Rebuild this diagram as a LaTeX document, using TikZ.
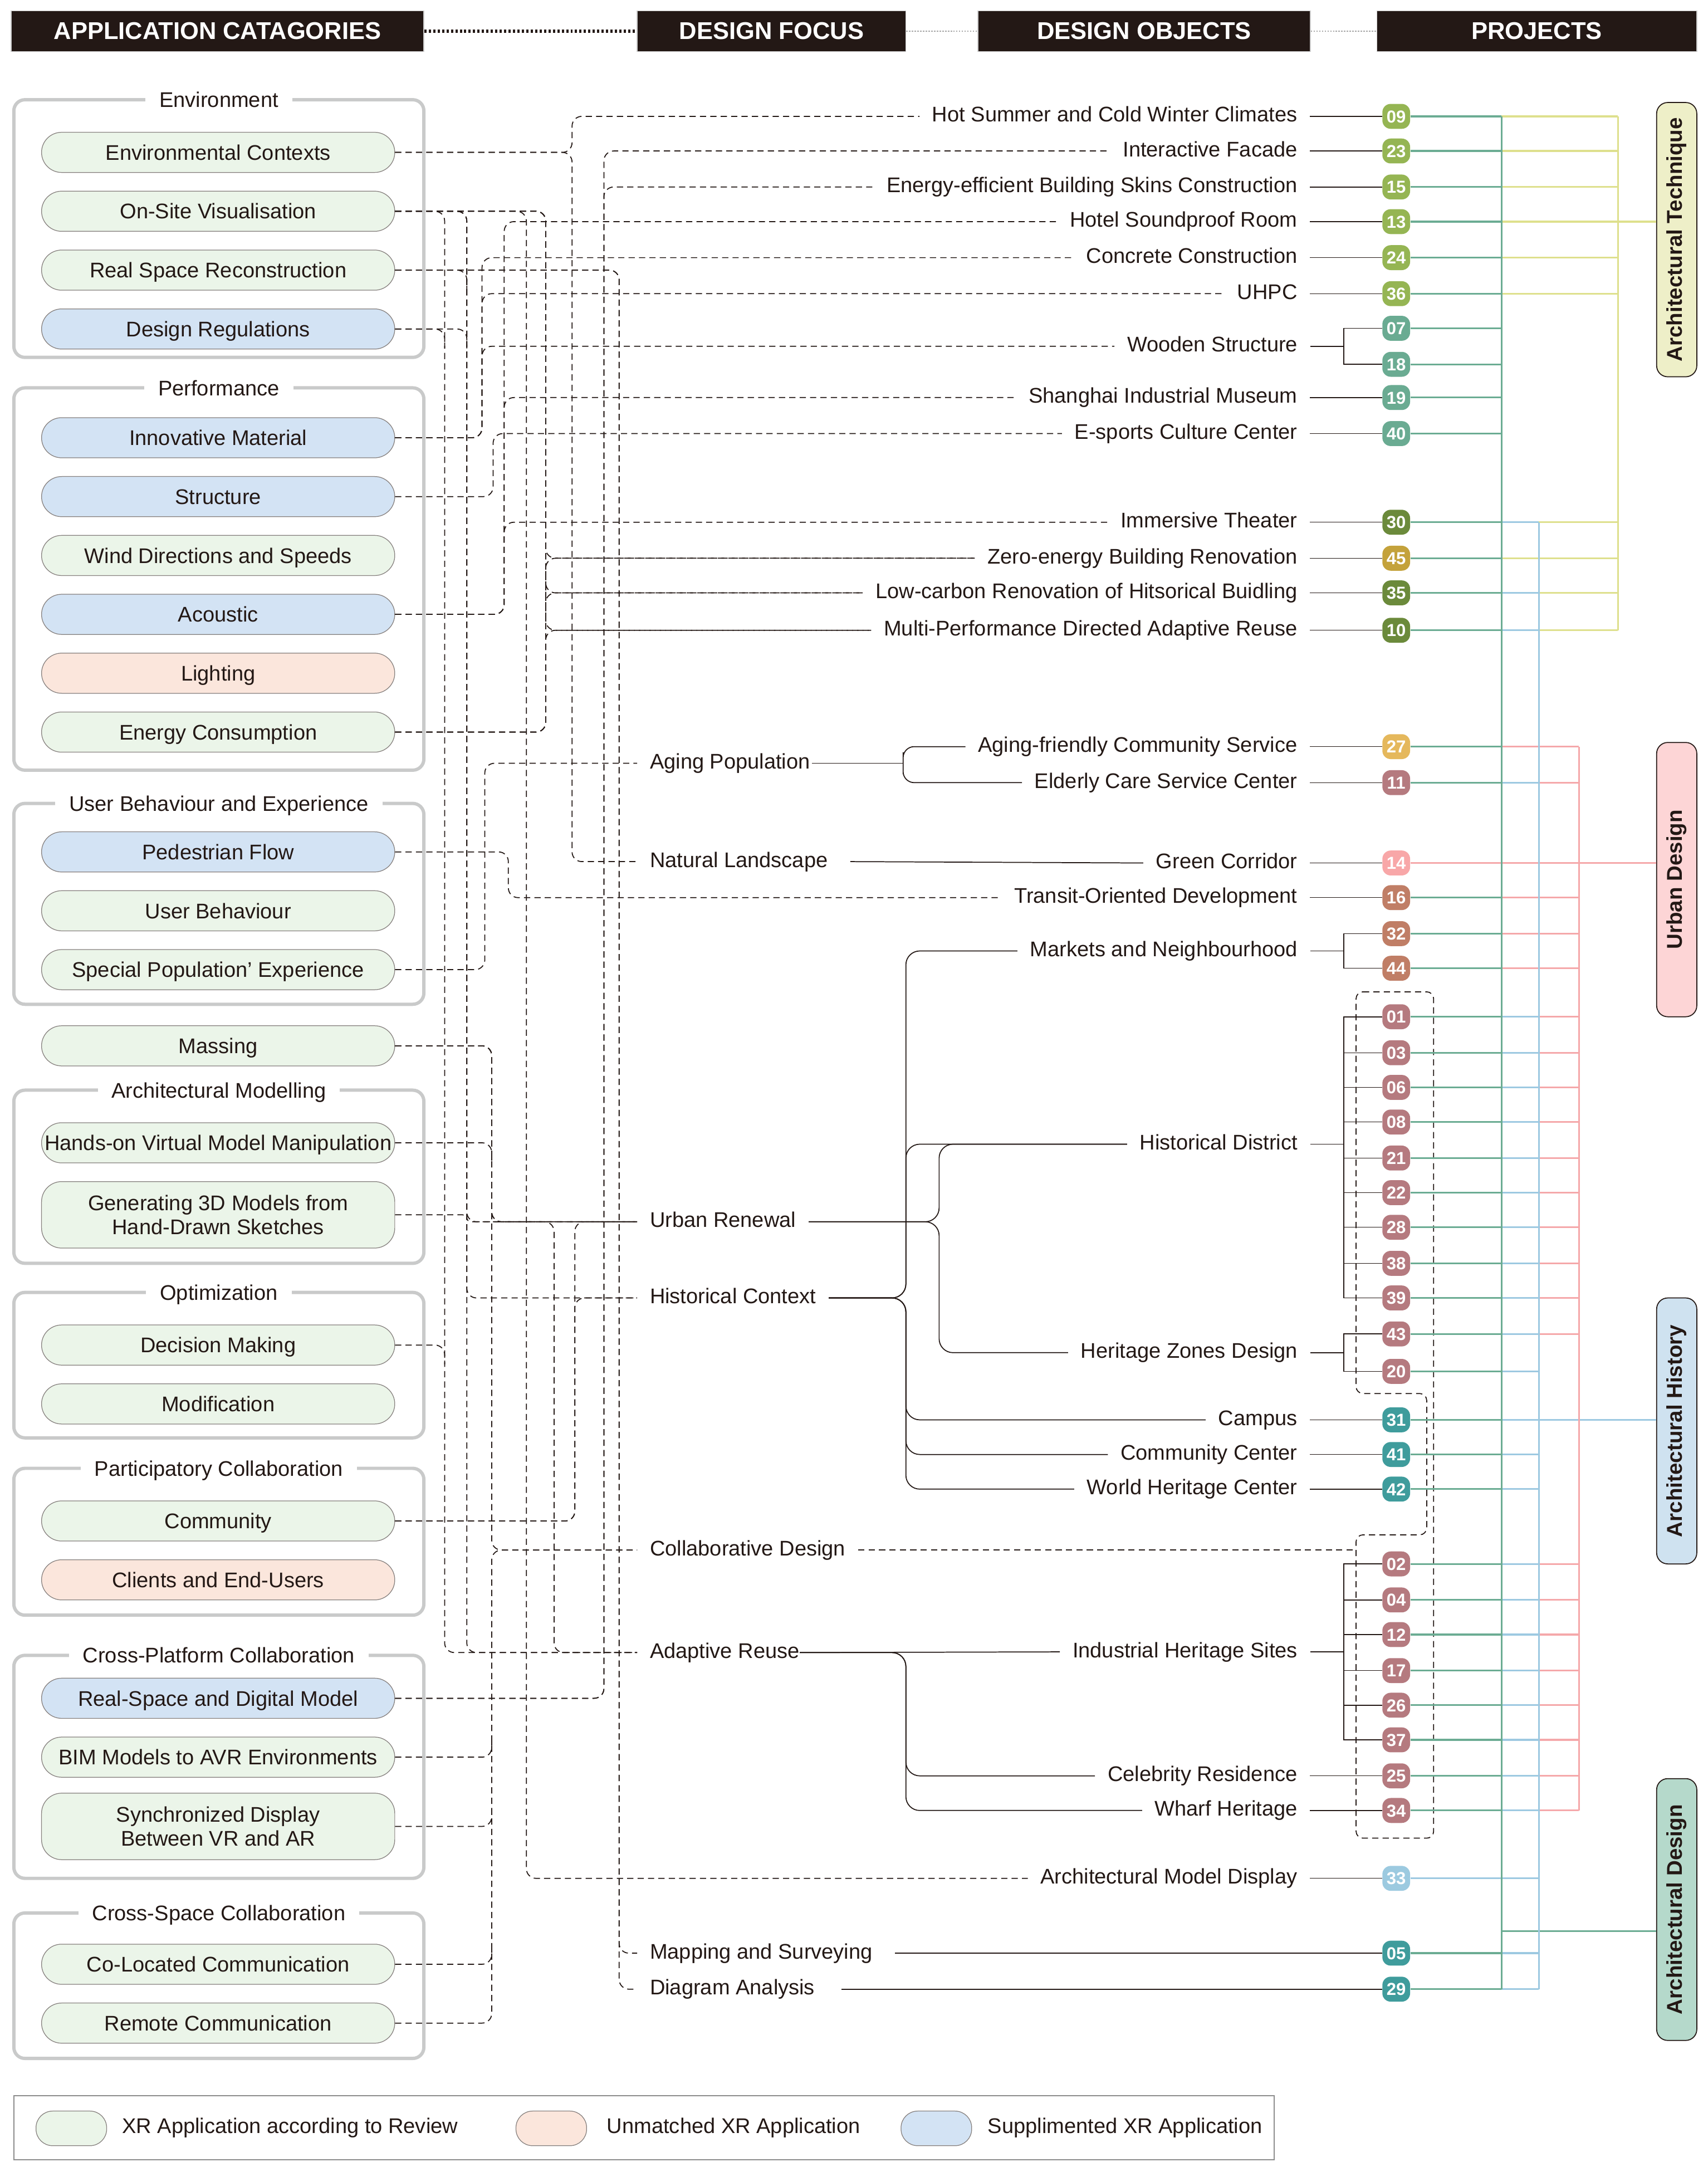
\documentclass[tikz,border=0pt]{standalone}
\usepackage{fontspec}
\setmainfont{Liberation Sans}
\usetikzlibrary{positioning,calc}
\definecolor{ink}{HTML}{231815}
\definecolor{frame}{HTML}{C9CACA}
\definecolor{legline}{HTML}{8C8C8C}
\definecolor{pg}{HTML}{EBF5E9}
\definecolor{pb}{HTML}{D3E3F4}
\definecolor{pr}{HTML}{FBE6DC}
\definecolor{grline}{HTML}{6BAC93}
\definecolor{blline}{HTML}{9DC9E1}
\definecolor{ylline}{HTML}{DEE08D}
\definecolor{pkline}{HTML}{F5A8AA}
\definecolor{bOl}{HTML}{95B553}
\definecolor{bTg}{HTML}{6AAB92}
\definecolor{bDk}{HTML}{6B8A3B}
\definecolor{bMu}{HTML}{C4A23B}
\definecolor{bYe}{HTML}{E5B85C}
\definecolor{bMv}{HTML}{B57A7F}
\definecolor{bPk}{HTML}{F8A7A8}
\definecolor{bBr}{HTML}{C07E66}
\definecolor{bTl}{HTML}{3F9C9C}
\definecolor{bLb}{HTML}{9CCAE0}
\definecolor{cT}{HTML}{EEEFC8}
\definecolor{cU}{HTML}{FDD5D6}
\definecolor{cH}{HTML}{CFE2F0}
\definecolor{cD}{HTML}{B5D9CB}

\begin{document}
\begin{tikzpicture}[x=1pt,y=-1pt,% one unit per pixel of the sheet, y runs downwards
	every node/.style={text=ink,font=\fontsize{15.3}{17}\selectfont},
	every edge/.style={draw=ink,line width=0.6pt},
	head/.style={fill=ink,draw=gray!40,line width=0.6pt,text=white,font=\fontsize{17.5}{20}\selectfont\bfseries,minimum height=29.5pt,inner sep=0pt},
	grp/.style={draw=frame,line width=2.4pt,rounded corners=8pt},
	gtitle/.style={fill=white,inner xsep=10pt,inner ysep=1pt,text height=11pt,text depth=0pt},
	pillbase/.style={draw=ink!55,line width=0.5pt,rounded corners=14.5pt,minimum width=255pt,minimum height=29pt,inner sep=0pt,align=center},
	pill/.style={pillbase,text height=11pt,text depth=0pt},% caps sit in the middle of the pill
	focus/.style={anchor=west,inner xsep=9pt,inner ysep=0pt,text height=11pt,text depth=3pt},
	obj/.style={inner xsep=9pt,inner ysep=0pt,text height=11pt,text depth=3pt},
	badge/.style={rounded corners=6pt,minimum width=20pt,minimum height=18pt,inner sep=0pt,text=white,text height=9pt,text depth=0pt,font=\fontsize{12.5}{13}\selectfont\bfseries},
	cat/.style={rotate=90,draw=ink,line width=0.7pt,rounded corners=8pt,minimum height=29pt,inner sep=0pt,font=\fontsize{15.5}{18}\selectfont\bfseries},
	dline/.style={draw=ink,line width=0.7pt,dash pattern=on 4.5pt off 3pt,rounded corners=7pt},
	tline/.style={draw=ink,line width=0.7pt},
	gl/.style={draw=grline,line width=1.3pt},
	bl/.style={draw=blline,line width=1.3pt},
	yl/.style={draw=ylline,line width=1.3pt},
	pl/.style={draw=pkline,line width=1.3pt}
	]
	\useasboundingbox (0,0) rectangle (1233,1568);

	% column heads
	\node[head,minimum width=298pt](H1) at (157,22.5){APPLICATION CATAGORIES};
	\node[head,minimum width=194pt](H2) at (557,22.5){DESIGN FOCUS};
	\node[head,minimum width=240pt](H3) at (826,22.5){DESIGN OBJECTS};
	\node[head,minimum width=231pt](H4) at (1109.5,22.5){PROJECTS};
	\draw[ink,line width=2.4pt,dash pattern=on 1.6pt off 1.6pt] (H1) -- (H2);
	\draw[gray!70,line width=0.6pt,dash pattern=on 1pt off 1pt] (H2) -- (H3) (H3) -- (H4);

	% application categories
	\draw[grp] (10,72) rectangle (306,258);
	\node[gtitle](T1) at (158,72){Environment};
	\node[pill,fill=pg](C1) at (157.5,110){Environmental Contexts};
	\node[pill,fill=pg,below=13pt of C1](C2){On-Site Visualisation};
	\node[pill,fill=pg,below=13pt of C2](C3){Real Space Reconstruction};
	\node[pill,fill=pb,below=13pt of C3](C4){Design Regulations};

	\draw[grp] (10,280) rectangle (306,556);
	\node[gtitle](T2) at (158,280){Performance};
	\node[pill,fill=pb](C5) at (157.5,316){Innovative Material};
	\node[pill,fill=pb,below=13pt of C5](C6){Structure};
	\node[pill,fill=pg,below=13pt of C6](C7){Wind Directions and Speeds};
	\node[pill,fill=pb,below=13pt of C7](C8){Acoustic};
	\node[pill,fill=pr,below=13pt of C8](C9){Lighting};
	\node[pill,fill=pg,below=13pt of C9](C10){Energy Consumption};

	\draw[grp] (10,580) rectangle (306,725);
	\node[gtitle](T3) at (158,580){User Behaviour and Experience};
	\node[pill,fill=pb](C11) at (157.5,615){Pedestrian Flow};
	\node[pill,fill=pg,below=13pt of C11](C12){User Behaviour};
	\node[pill,fill=pg,below=13pt of C12](C13){Special Population' Experience};

	\node[pill,fill=pg](C14) at (157.5,755){Massing};

	\draw[grp] (10,787) rectangle (306,912);
	\node[gtitle](T4) at (158,787){Architectural Modelling};
	\node[pill,fill=pg](C15) at (157.5,825){Hands-on Virtual Model Manipulation};
	\node[pillbase,fill=pg,minimum height=48pt,below=13pt of C15](C16){Generating 3D Models from\\Hand-Drawn Sketches};

	\draw[grp] (10,933) rectangle (306,1038);
	\node[gtitle](T5) at (158,933){Optimization};
	\node[pill,fill=pg](C17) at (157.5,971){Decision Making};
	\node[pill,fill=pg,below=13pt of C17](C18){Modification};

	\draw[grp] (10,1060) rectangle (306,1166);
	\node[gtitle](T6) at (158,1060){Participatory Collaboration};
	\node[pill,fill=pg](C19) at (157.5,1098){Community};
	\node[pill,fill=pr,below=13pt of C19](C20){Clients and End-Users};

	\draw[grp] (10,1195) rectangle (306,1356);
	\node[gtitle](T7) at (158,1195){Cross-Platform Collaboration};
	\node[pill,fill=pb](C21) at (157.5,1226){Real-Space and Digital Model};
	\node[pill,fill=pg,below=13pt of C21](C22){BIM Models to AVR Environments};
	\node[pillbase,fill=pg,minimum height=48pt,below=11pt of C22](C23){Synchronized Display\\Between VR and AR};

	\draw[grp] (10,1381) rectangle (306,1486);
	\node[gtitle](T8) at (158,1381){Cross-Space Collaboration};
	\node[pill,fill=pg](C24) at (157.5,1418){Co-Located Communication};
	\node[pill,fill=pg,below=13pt of C24](C25){Remote Communication};

	% legend
	\draw[draw=legline,line width=0.8pt] (10,1513) rectangle (920,1559);
	\node[pillbase,fill=pg,minimum width=51pt,minimum height=25pt,rounded corners=12pt](L1) at (51.5,1536.5){};
	\node[anchor=west,inner sep=0pt](L1t) at (88,1536){XR Application according to Review};
	\node[pillbase,fill=pr,minimum width=51pt,minimum height=25pt,rounded corners=12pt](L2) at (398,1536.5){};
	\node[anchor=west,inner sep=0pt](L2t) at (438,1536){Unmatched XR Application};
	\node[pillbase,fill=pb,minimum width=51pt,minimum height=25pt,rounded corners=12pt](L3) at (676,1536.5){};
	\node[anchor=west,inner sep=0pt](L3t) at (713,1536){Supplimented XR Application};

	% projects
	\node[badge,fill=bOl](P09) at (1008,84){09};
	\node[badge,fill=bOl](P23) at (1008,109){23};
	\node[badge,fill=bOl](P15) at (1008,135){15};
	\node[badge,fill=bOl](P13) at (1008,160){13};
	\node[badge,fill=bOl](P24) at (1008,186){24};
	\node[badge,fill=bOl](P36) at (1008,212){36};
	\node[badge,fill=bTg](P07) at (1008,237){07};
	\node[badge,fill=bTg](P18) at (1008,263){18};
	\node[badge,fill=bTg](P19) at (1008,287){19};
	\node[badge,fill=bTg](P40) at (1008,313){40};
	\node[badge,fill=bDk](P30) at (1008,377){30};
	\node[badge,fill=bMu](P45) at (1008,403){45};
	\node[badge,fill=bDk](P35) at (1008,428){35};
	\node[badge,fill=bDk](P10) at (1008,455){10};
	\node[badge,fill=bYe](P27) at (1008,539){27};
	\node[badge,fill=bMv](P11) at (1008,565){11};
	\node[badge,fill=bPk](P14) at (1008,623){14};
	\node[badge,fill=bBr](P16) at (1008,648){16};
	\node[badge,fill=bBr](P32) at (1008,674){32};
	\node[badge,fill=bBr](P44) at (1008,699){44};
	\node[badge,fill=bMv](P01) at (1008,734){01};
	\node[badge,fill=bMv](P03) at (1008,760){03};
	\node[badge,fill=bMv](P06) at (1008,785){06};
	\node[badge,fill=bMv](P08) at (1008,810){08};
	\node[badge,fill=bMv](P21) at (1008,836){21};
	\node[badge,fill=bMv](P22) at (1008,861){22};
	\node[badge,fill=bMv](P28) at (1008,886){28};
	\node[badge,fill=bMv](P38) at (1008,912){38};
	\node[badge,fill=bMv](P39) at (1008,937){39};
	\node[badge,fill=bMv](P43) at (1008,963){43};
	\node[badge,fill=bMv](P20) at (1008,990){20};
	\node[badge,fill=bTl](P31) at (1008,1025){31};
	\node[badge,fill=bTl](P41) at (1008,1050){41};
	\node[badge,fill=bTl](P42) at (1008,1075){42};
	\node[badge,fill=bMv](P02) at (1008,1129){02};
	\node[badge,fill=bMv](P04) at (1008,1155){04};
	\node[badge,fill=bMv](P12) at (1008,1180){12};
	\node[badge,fill=bMv](P17) at (1008,1206){17};
	\node[badge,fill=bMv](P26) at (1008,1231){26};
	\node[badge,fill=bMv](P37) at (1008,1256){37};
	\node[badge,fill=bMv](P25) at (1008,1282){25};
	\node[badge,fill=bMv](P34) at (1008,1307){34};
	\node[badge,fill=bLb](P33) at (1008,1356){33};
	\node[badge,fill=bTl](P05) at (1008,1410){05};
	\node[badge,fill=bTl](P29) at (1008,1436){29};

	% design objects
	\node[obj,left=52pt of P09](O1){Hot Summer and Cold Winter Climates};
	\node[obj,left=52pt of P23](O2){Interactive Facade};
	\node[obj,left=52pt of P15](O3){Energy-efficient Building Skins Construction};
	\node[obj,left=52pt of P13](O4){Hotel Soundproof Room};
	\node[obj,left=52pt of P24](O5){Concrete Construction};
	\node[obj,left=52pt of P36](O6){UHPC};
	\node[obj,anchor=east](O7) at (946,250){Wooden Structure};
	\node[obj,left=52pt of P19](O8){Shanghai Industrial Museum};
	\node[obj,left=52pt of P40](O9){E-sports Culture Center};
	\node[obj,left=52pt of P30](O10){Immersive Theater};
	\node[obj,left=52pt of P45](O11){Zero-energy Building Renovation};
	\node[obj,left=52pt of P35](O12){Low-carbon Renovation of Hitsorical Buidling};
	\node[obj,left=52pt of P10](O13){Multi-Performance Directed Adaptive Reuse};
	\node[obj,left=52pt of P27](O14){Aging-friendly Community Service};
	\node[obj,left=52pt of P11](O15){Elderly Care Service Center};
	\node[obj,left=52pt of P14](O16){Green Corridor};
	\node[obj,left=52pt of P16](O17){Transit-Oriented Development};
	\node[obj,anchor=east](O18) at (946,686.5){Markets and Neighbourhood};
	\node[obj,anchor=east](O19) at (946,826){Historical District};
	\node[obj,anchor=east](O20) at (946,976.5){Heritage Zones Design};
	\node[obj,left=52pt of P31](O21){Campus};
	\node[obj,left=52pt of P41](O22){Community Center};
	\node[obj,left=52pt of P42](O23){World Heritage Center};
	\node[obj,anchor=east](O24) at (946,1192.5){Industrial Heritage Sites};
	\node[obj,left=52pt of P25](O25){Celebrity Residence};
	\node[obj,left=52pt of P34](O26){Wharf Heritage};
	\node[obj,left=52pt of P33](O27){Architectural Model Display};

	% design focus
	\node[focus](F1) at (460,551){Aging Population};
	\node[focus](F2) at (460,622){Natural Landscape};
	\node[focus](F3) at (460,882){Urban Renewal};
	\node[focus](F4) at (460,937){Historical Context};
	\node[focus](F5) at (460,1119){Collaborative Design};
	\node[focus](F6) at (460,1193){Adaptive Reuse};
	\node[focus](F7) at (460,1410){Mapping and Surveying};
	\node[focus](F8) at (460,1436){Diagram Analysis};

	% research fields
	\node[cat,fill=cT,minimum width=198pt](R1) at (1210.5,173){Architectural Technique};
	\node[cat,fill=cU,minimum width=198pt](R2) at (1210.5,635){Urban Design};
	\node[cat,fill=cH,minimum width=192pt](R3) at (1210.5,1033){Architectural History};
	\node[cat,fill=cD,minimum width=189pt](R4) at (1210.5,1378.5){Architectural Design};

	% routing columns
	\coordinate (kA) at (321,0);
	\coordinate (kB) at (337,0);
	\coordinate (kC) at (348,0);
	\coordinate (kG) at (350,0);
	\coordinate (kH) at (355,0);
	\coordinate (kD) at (356,0);
	\coordinate (kE) at (364,0);
	\coordinate (kP) at (367,0);
	\coordinate (kF) at (380,0);
	\coordinate (kI) at (394,0);
	\coordinate (kJ) at (400,0);
	\coordinate (kK) at (413,0);
	\coordinate (kL) at (415,0);
	\coordinate (kM) at (436,0);
	\coordinate (kN) at (447,0);
	\coordinate (kX) at (979,0);
	\coordinate (t1) at (652,0);
	\coordinate (t2) at (654,0);
	\coordinate (t3) at (678,0);
	\coordinate (t4) at (970,0);
	\coordinate (kGr) at (1084,0);
	\coordinate (kBl) at (1111,0);
	\coordinate (kPk) at (1140,0);
	\coordinate (kYl) at (1168,0);
	\coordinate (gD) at (1084,1394);

	% dashed links
	\draw[dline] (C1.east) -| (kK |- O1.west) -- (O1.west);
	\draw[dline] (C1.east) -| (kK |- F2.west) -- (F2.west);
	\draw[dline] (C2.east) -| (kA |- F6.west) -- (F6.west);
	\draw[dline] (C2.east) -| (kB |- F3.west) -- (F3.west);
	\draw[dline] (C2.east) -| (kB |- F4.west) -- (F4.west);
	\draw[dline] (C2.east) -| (kB |- F6.west) -- (F6.west);
	\draw[dline] (C2.east) -| (kF |- O27.west) -- (O27.west);
	\draw[dline] (C2.east) -| (kI |- O11.west) -- (O11.west);
	\draw[dline] (C2.east) -| (kI |- O12.west) -- (O12.west);
	\draw[dline] (C2.east) -| (kI |- O13.west) -- (O13.west);
	\draw[dline] (C3.east) -| ($(kB |- C3.east)+(0,14)$);
	\draw[dline] (C3.east) -| (kN |- F7.west) -- (F7.west);
	\draw[dline] (C3.east) -| (kN |- F8.west) -- (F8.west);
	\draw[dline] (C4.east) -| ($(kA |- C4.east)+(0,14)$);
	\draw[dline] (C4.east) -| ($(kB |- C4.east)+(0,14)$);
	\draw[dline] (C5.east) -| (kC |- O5.west) -- (O5.west);
	\draw[dline] (C5.east) -| (kC |- O6.west) -- (O6.west);
	\draw[dline] (C5.east) -| (kC |- O7.west) -- (O7.west);
	\draw[dline] (C6.east) -| (kD |- O9.west) -- (O9.west);
	\draw[dline] (C8.east) -| (kE |- O4.west) -- (O4.west);
	\draw[dline] (C8.east) -| (kE |- O8.west) -- (O8.west);
	\draw[dline] (C8.east) -| (kE |- O10.west) -- (O10.west);
	\draw[dline] (C10.east) -| (kI |- O11.west) -- (O11.west);
	\draw[dline] (C10.east) -| (kI |- O12.west) -- (O12.west);
	\draw[dline] (C10.east) -| (kI |- O13.west) -- (O13.west);
	\draw[dline] (C11.east) -| (kP |- O17.west) -- (O17.west);
	\draw[dline] (C13.east) -| (kG |- F1.west) -- (F1.west);
	\draw[dline] (C14.east) -| (kH |- F3.west) -- (F3.west);
	\draw[dline] (C14.east) -| (kH |- F3.west) -| (kJ |- F6.west) -- (F6.west);
	\draw[dline] (C14.east) -| (kH |- F5.west) -- (F5.west);
	\draw[dline] (C15.east) -| ($(kH |- C15.east)+(0,14)$);
	\draw[dline,rounded corners=3pt] (C16.east) -| (kB |- F3.west) -- (F3.west);
	\draw[dline] (C17.east) -| ($(kA |- C17.east)+(0,14)$);
	\draw[dline] (C19.east) -| (kL |- F3.west) -- (F3.west);
	\draw[dline] (C19.east) -| (kL |- F4.west) -- (F4.west);
	\draw[dline] (C21.east) -| (kM |- O2.west) -- (O2.west);
	\draw[dline] (C21.east) -| (kM |- O3.west) -- (O3.west);
	\draw[dline] (C22.east) -| ($(kH |- C22.east)+(0,-14)$);
	\draw[dline] (C23.east) -| ($(kH |- C23.east)+(0,-14)$);
	\draw[dline] (C24.east) -| ($(kH |- C24.east)+(0,-14)$);
	\draw[dline] (C25.east) -| (kH |- F5.west) -- (F5.west);
	\draw[dline] (F5.east) -- (kX |- F5.east);
	\draw[dline,rounded corners=5pt] (979,716) -- (1035,716) -- (1035,1327) -- (979,1327) -- (979,1108) -- (1030,1108) -- (1030,1006) -- (979,1006) -- cycle;

	% focus to objects
	\draw[tline] ([xshift=-8pt]F1.east) -- (t1 |- F1.east);
	\draw[tline,rounded corners=8pt] (O14.west) -| (t1 |- F1.east) |- (O15.west);
	\draw[tline] ([xshift=7pt]F2.east) -- (O16.west);
	\draw[tline,rounded corners=10pt] (F4.east) -| (t2 |- O18.west) -- (O18.west);
	\draw[tline,rounded corners=10pt] (F4.east) -| (t2 |- O19.west) -- (O19.west);
	\draw[tline,rounded corners=10pt] (F4.east) -| (t2 |- O21.west) -- (O21.west);
	\draw[tline,rounded corners=10pt] (F4.east) -| (t2 |- O22.west) -- (O22.west);
	\draw[tline,rounded corners=10pt] (F4.east) -| (t2 |- O23.west) -- (O23.west);
	\draw[tline,rounded corners=10pt] (F3.east) -| (t3 |- O19.west) -- (O19.west);
	\draw[tline,rounded corners=10pt] (F3.east) -| (t3 |- O20.west) -- (O20.west);
	\draw[tline] ([xshift=-9pt]F6.east) -- (O24.west);
	\draw[tline,rounded corners=10pt] ([xshift=-9pt]F6.east) -| (t2 |- O25.west) -- (O25.west);
	\draw[tline,rounded corners=10pt] ([xshift=-9pt]F6.east) -| (t2 |- O26.west) -- (O26.west);
	\draw[tline] ([xshift=7pt]F7.east) -- (P05);
	\draw[tline] ([xshift=10pt]F8.east) -- (P29);

	% objects to projects
	\path
	(O1) edge (P09) (O2) edge (P23) (O3) edge (P15) (O4) edge (P13) (O5) edge (P24) (O6) edge (P36)
	(O8) edge (P19) (O9) edge (P40) (O10) edge (P30) (O11) edge (P45) (O12) edge (P35) (O13) edge (P10)
	(O14) edge (P27) (O15) edge (P11) (O16) edge (P14) (O17) edge (P16)
	(O21) edge (P31) (O22) edge (P41) (O23) edge (P42) (O25) edge (P25) (O26) edge (P34) (O27) edge (P33)
	(O7) edge (t4 |- O7) (O18) edge (t4 |- O18) (O19) edge (t4 |- O19) (O20) edge (t4 |- O20) (O24) edge (t4 |- O24)
	(t4 |- P03) edge (P03) (t4 |- P06) edge (P06) (t4 |- P08) edge (P08) (t4 |- P21) edge (P21)
	(t4 |- P22) edge (P22) (t4 |- P28) edge (P28) (t4 |- P38) edge (P38)
	(t4 |- P04) edge (P04) (t4 |- P12) edge (P12) (t4 |- P17) edge (P17) (t4 |- P26) edge (P26)
	;
	\draw[tline] (P07.west) -| (t4 |- P18.west) -- (P18.west);
	\draw[tline] (P32.west) -| (t4 |- P44.west) -- (P44.west);
	\draw[tline] (P01.west) -| (t4 |- P39.west) -- (P39.west);
	\draw[tline] (P43.west) -| (t4 |- P20.west) -- (P20.west);
	\draw[tline] (P02.west) -| (t4 |- P37.west) -- (P37.west);

	% projects to research fields
	\path
	(P09) edge[gl] (kGr |- P09) (kGr |- P09) edge[yl] (kYl |- P09)
	(P23) edge[gl] (kGr |- P23) (kGr |- P23) edge[yl] (kYl |- P23)
	(P15) edge[gl] (kGr |- P15) (kGr |- P15) edge[yl] (kYl |- P15)
	(P13) edge[gl] (kGr |- P13) (kGr |- P13) edge[yl] (kYl |- P13)
	(P24) edge[gl] (kGr |- P24) (kGr |- P24) edge[yl] (kYl |- P24)
	(P36) edge[gl] (kGr |- P36) (kGr |- P36) edge[yl] (kYl |- P36)
	(P07) edge[gl] (kGr |- P07) (P18) edge[gl] (kGr |- P18)
	(P19) edge[gl] (kGr |- P19) (P40) edge[gl] (kGr |- P40)
	(P30) edge[gl] (kGr |- P30) (kGr |- P30) edge[bl] (kBl |- P30) (kBl |- P30) edge[yl] (kYl |- P30)
	(P45) edge[gl] (kGr |- P45) (kGr |- P45) edge[yl] (kYl |- P45)
	(P35) edge[gl] (kGr |- P35) (kGr |- P35) edge[bl] (kBl |- P35) (kBl |- P35) edge[yl] (kYl |- P35)
	(P10) edge[gl] (kGr |- P10) (kGr |- P10) edge[bl] (kBl |- P10) (kBl |- P10) edge[yl] (kYl |- P10)
	(P27) edge[gl] (kGr |- P27) (kGr |- P27) edge[pl] (kPk |- P27)
	(P11) edge[gl] (kGr |- P11) (kGr |- P11) edge[bl] (kBl |- P11) (kBl |- P11) edge[pl] (kPk |- P11)
	(P14) edge[pl] (R2.north |- P14)
	(P16) edge[gl] (kGr |- P16) (kGr |- P16) edge[pl] (kPk |- P16)
	(P32) edge[gl] (kGr |- P32) (kGr |- P32) edge[pl] (kPk |- P32)
	(P44) edge[gl] (kGr |- P44) (kGr |- P44) edge[pl] (kPk |- P44)
	(P01) edge[gl] (kGr |- P01) (kGr |- P01) edge[bl] (kBl |- P01) (kBl |- P01) edge[pl] (kPk |- P01)
	(P03) edge[gl] (kGr |- P03) (kGr |- P03) edge[bl] (kBl |- P03) (kBl |- P03) edge[pl] (kPk |- P03)
	(P06) edge[gl] (kGr |- P06) (kGr |- P06) edge[bl] (kBl |- P06) (kBl |- P06) edge[pl] (kPk |- P06)
	(P08) edge[gl] (kGr |- P08) (kGr |- P08) edge[bl] (kBl |- P08) (kBl |- P08) edge[pl] (kPk |- P08)
	(P21) edge[gl] (kGr |- P21) (kGr |- P21) edge[bl] (kBl |- P21) (kBl |- P21) edge[pl] (kPk |- P21)
	(P22) edge[gl] (kGr |- P22) (kGr |- P22) edge[bl] (kBl |- P22) (kBl |- P22) edge[pl] (kPk |- P22)
	(P28) edge[gl] (kGr |- P28) (kGr |- P28) edge[bl] (kBl |- P28) (kBl |- P28) edge[pl] (kPk |- P28)
	(P38) edge[gl] (kGr |- P38) (kGr |- P38) edge[bl] (kBl |- P38) (kBl |- P38) edge[pl] (kPk |- P38)
	(P39) edge[gl] (kGr |- P39) (kGr |- P39) edge[bl] (kBl |- P39) (kBl |- P39) edge[pl] (kPk |- P39)
	(P43) edge[gl] (kGr |- P43) (kGr |- P43) edge[bl] (kBl |- P43) (kBl |- P43) edge[pl] (kPk |- P43)
	(P20) edge[gl] (kGr |- P20) (kGr |- P20) edge[bl] (kBl |- P20)
	(P31) edge[gl] (kGr |- P31) (kGr |- P31) edge[bl] (R3.north |- P31)
	(P41) edge[gl] (kGr |- P41) (kGr |- P41) edge[bl] (kBl |- P41)
	(P42) edge[gl] (kGr |- P42) (kGr |- P42) edge[bl] (kBl |- P42)
	(P02) edge[gl] (kGr |- P02) (kGr |- P02) edge[bl] (kBl |- P02) (kBl |- P02) edge[pl] (kPk |- P02)
	(P04) edge[gl] (kGr |- P04) (kGr |- P04) edge[bl] (kBl |- P04) (kBl |- P04) edge[pl] (kPk |- P04)
	(P12) edge[gl] (kGr |- P12) (kGr |- P12) edge[bl] (kBl |- P12) (kBl |- P12) edge[pl] (kPk |- P12)
	(P17) edge[gl] (kGr |- P17) (kGr |- P17) edge[bl] (kBl |- P17) (kBl |- P17) edge[pl] (kPk |- P17)
	(P26) edge[gl] (kGr |- P26) (kGr |- P26) edge[bl] (kBl |- P26) (kBl |- P26) edge[pl] (kPk |- P26)
	(P37) edge[gl] (kGr |- P37) (kGr |- P37) edge[bl] (kBl |- P37) (kBl |- P37) edge[pl] (kPk |- P37)
	(P25) edge[gl] (kGr |- P25) (kGr |- P25) edge[bl] (kBl |- P25) (kBl |- P25) edge[pl] (kPk |- P25)
	(P34) edge[gl] (kGr |- P34) (kGr |- P34) edge[bl] (kBl |- P34) (kBl |- P34) edge[pl] (kPk |- P34)
	(P33) edge[bl] (kBl |- P33)
	(P05) edge[gl] (kGr |- P05) (kGr |- P05) edge[bl] (kBl |- P05)
	(P29) edge[gl] (kGr |- P29) (kGr |- P29) edge[bl] (kBl |- P29)
	(kYl |- P13) edge[yl] (R1.north |- P13)
	(gD) edge[gl] (R4.north |- gD)
	;
	\draw[gl] (kGr |- P09) -- (kGr |- P29);
	\draw[bl] (kBl |- P30) -- (kBl |- P29);
	\draw[yl] (kYl |- P09) -- (kYl |- P10);
	\draw[pl] (kPk |- P27) -- (kPk |- P34);
\end{tikzpicture}
\end{document}
